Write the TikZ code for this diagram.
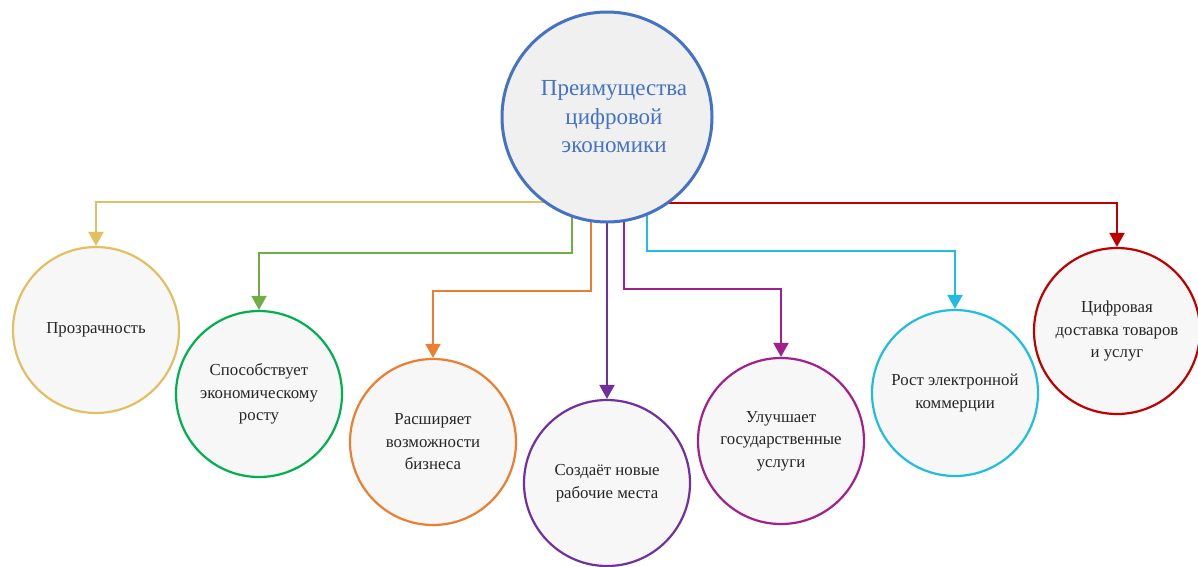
\documentclass[tikz,border=0pt]{standalone}
\usepackage{fontspec}
\setmainfont{Liberation Serif}
\usetikzlibrary{arrows.meta,backgrounds}

\definecolor{hubblue}{HTML}{4472C4}
\definecolor{hubfill}{HTML}{F0F0F0}
\definecolor{leaffill}{HTML}{F7F7F7}
\definecolor{yel}{HTML}{E2C062}
\definecolor{grnline}{HTML}{70AD47}
\definecolor{grn}{HTML}{00B050}
\definecolor{orng}{HTML}{ED7D31}
\definecolor{purp}{HTML}{7030A0}
\definecolor{mgnt}{HTML}{A2208E}
\definecolor{cyn}{HTML}{1FBDDF}
\definecolor{rd}{HTML}{C00000}

\tikzset{
    hubnode/.style={circle, draw=hubblue, line width=3pt, fill=hubfill, minimum size=210pt,
        inner sep=0pt, align=center, text=hubblue, font=\fontsize{23}{28.5}\selectfont},
    leaf/.style={circle, line width=2.2pt, fill=leaffill, minimum size=166pt,
        inner sep=0pt, align=center, text=black!85, font=\fontsize{16.8}{22.5}\selectfont},
    link/.style={line width=2pt, -{Triangle[width=15pt,length=14pt]}},
}

\begin{document}
\begin{tikzpicture}[x=1pt, y=-1pt]
    \useasboundingbox (0,0) rectangle (1198,566);

    \node[hubnode] (hub) at (607,117) {\hspace{14pt}Преимущества\\\hspace{14pt}цифровой\\\hspace{14pt}экономики};

    \node[leaf, draw=yel] (clear) at (96,330) {Прозрачность};
    \node[leaf, draw=grn] (growth) at (259,394) {Способствует\\экономическому\\росту};
    \node[leaf, draw=orng] (biz) at (433,442) {Расширяет\\возможности\\бизнеса};
    \node[leaf, draw=purp] (jobs) at (607,483) {Создаёт новые\\рабочие места};
    \node[leaf, draw=mgnt] (gov) at (781,441) {Улучшает\\государственные\\услуги};
    \node[leaf, draw=cyn] (ecom) at (955,393) {Рост электронной\\коммерции};
    \node[leaf, draw=rd] (deliv) at (1117,331) {Цифровая\\доставка товаров\\и услуг};

    % elbow points of the connectors
    \coordinate (kYel) at (0,202);
    \coordinate (kGrn) at (572,253);
    \coordinate (kOrn) at (591,291);
    \coordinate (kMag) at (624,289);
    \coordinate (kCyn) at (647,251);
    \coordinate (kRed) at (0,203);

    \begin{scope}[on background layer]
        \draw[link, yel] (hub.center |- kYel) -| (clear.north);
        \draw[link, grnline] (kGrn |- hub.center) -- (kGrn) -| (growth.north);
        \draw[link, orng] (kOrn |- hub.center) -- (kOrn) -| (biz.north);
        \draw[link, purp] (hub.center) -- (jobs.north);
        \draw[link, mgnt] (kMag |- hub.center) -- (kMag) -| (gov.north);
        \draw[link, cyn] (kCyn |- hub.center) -- (kCyn) -| (ecom.north);
        \draw[link, rd] (hub.center |- kRed) -| (deliv.north);
    \end{scope}
\end{tikzpicture}
\end{document}
